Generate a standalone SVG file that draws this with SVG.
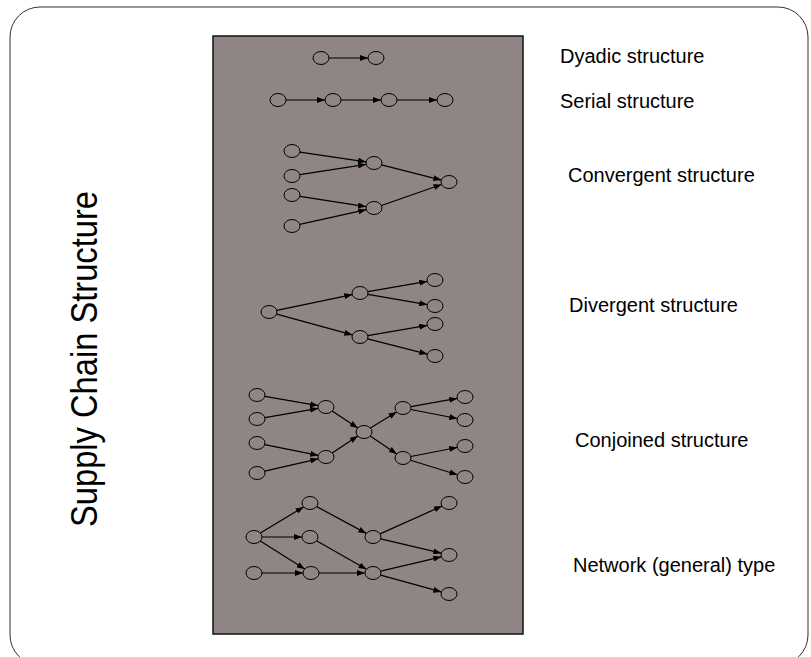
<svg xmlns="http://www.w3.org/2000/svg" width="811" height="657" viewBox="0 0 811 657">
  <style>
    .frame { fill: #ffffff; stroke: #333333; stroke-width: 1; }
    .panel { fill: #8f8585; stroke: #111111; stroke-width: 1.5; }
    .node ellipse { fill: none; stroke: #000000; stroke-width: 1; }
    .edge { stroke: #000000; stroke-width: 1.2; fill: none; marker-end: url(#arrow); }
    .label { font-family: "Liberation Sans", Arial, sans-serif; font-size: 20px; fill: #000000; }
    .title { font-family: "Liberation Sans", Arial, sans-serif; font-size: 37px; fill: #000000; }
  </style>
  <defs>
    <marker id="arrow" markerUnits="userSpaceOnUse" markerWidth="8" markerHeight="6" refX="8" refY="3" orient="auto">
      <path d="M0,0 L8,3 L0,6 z" fill="#000000"/>
    </marker>
  </defs>

  <!-- outer frame and shaded panel -->
  <rect class="frame" x="10" y="7" width="798" height="658" rx="30" ry="30"/>
  <rect class="panel" x="213" y="36" width="310" height="598"/>

  <!-- vertical title -->
  <text class="title" transform="translate(97,527) rotate(-90)" textLength="336" lengthAdjust="spacingAndGlyphs">Supply Chain Structure</text>

  <!-- structure labels -->
  <g id="labels">
    <text class="label" x="560" y="63">Dyadic structure</text>
    <text class="label" x="560" y="108">Serial structure</text>
    <text class="label" x="568" y="182">Convergent structure</text>
    <text class="label" x="569" y="312">Divergent structure</text>
    <text class="label" x="575" y="447">Conjoined structure</text>
    <text class="label" x="573" y="572">Network (general) type</text>
  </g>

  <!-- connectors -->
  <g id="connectors">
    <!-- dyadic -->
    <line class="edge" x1="329" y1="58" x2="368" y2="58"/>
    <!-- serial -->
    <line class="edge" x1="286" y1="100" x2="325" y2="100"/>
    <line class="edge" x1="341" y1="100" x2="381" y2="100"/>
    <line class="edge" x1="397" y1="100" x2="437" y2="100"/>
    <!-- convergent -->
    <line class="edge" x1="299.9" y1="152.2" x2="366.1" y2="161.8"/>
    <line class="edge" x1="299.9" y1="174.7" x2="366.1" y2="164.3"/>
    <line class="edge" x1="299.9" y1="196.3" x2="366.1" y2="206.7"/>
    <line class="edge" x1="299.7" y1="224.3" x2="366.3" y2="209.7"/>
    <line class="edge" x1="381.6" y1="164.9" x2="441.4" y2="180.1"/>
    <line class="edge" x1="381.4" y1="205.5" x2="441.6" y2="184.5"/>
    <!-- divergent -->
    <line class="edge" x1="276.7" y1="310.4" x2="352.3" y2="294.6"/>
    <line class="edge" x1="276.6" y1="314.1" x2="352.4" y2="334.9"/>
    <line class="edge" x1="367.8" y1="291.6" x2="427.2" y2="281.4"/>
    <line class="edge" x1="367.8" y1="294.4" x2="427.2" y2="304.6"/>
    <line class="edge" x1="367.8" y1="335.6" x2="427.2" y2="325.4"/>
    <line class="edge" x1="367.6" y1="338.9" x2="427.4" y2="354.1"/>
    <!-- conjoined -->
    <line class="edge" x1="264.9" y1="396.4" x2="318.1" y2="405.6"/>
    <line class="edge" x1="264.9" y1="417.6" x2="318.1" y2="408.4"/>
    <line class="edge" x1="264.7" y1="444.6" x2="318.3" y2="455.4"/>
    <line class="edge" x1="264.7" y1="471.2" x2="318.3" y2="458.8"/>
    <line class="edge" x1="332.2" y1="411.1" x2="357.8" y2="427.9"/>
    <line class="edge" x1="332.2" y1="452.9" x2="357.8" y2="436.1"/>
    <line class="edge" x1="370.4" y1="428.1" x2="396.6" y2="411.9"/>
    <line class="edge" x1="370.2" y1="436.1" x2="396.8" y2="453.9"/>
    <line class="edge" x1="410.8" y1="406.6" x2="457.2" y2="398.4"/>
    <line class="edge" x1="410.8" y1="409.5" x2="457.2" y2="418.5"/>
    <line class="edge" x1="410.8" y1="456.5" x2="457.2" y2="447.5"/>
    <line class="edge" x1="410.5" y1="460.3" x2="457.5" y2="474.7"/>
    <!-- network -->
    <line class="edge" x1="260.4" y1="533.1" x2="303.6" y2="506.9"/>
    <line class="edge" x1="262" y1="537" x2="302" y2="537"/>
    <line class="edge" x1="260.3" y1="541" x2="304.7" y2="569"/>
    <line class="edge" x1="262" y1="573" x2="303" y2="573"/>
    <line class="edge" x1="316.7" y1="506.6" x2="366.3" y2="533.4"/>
    <line class="edge" x1="316.5" y1="540.7" x2="366.5" y2="569.3"/>
    <line class="edge" x1="319" y1="573" x2="365" y2="573"/>
    <line class="edge" x1="380" y1="533.9" x2="442" y2="506.1"/>
    <line class="edge" x1="380.7" y1="538.8" x2="441.3" y2="553.2"/>
    <line class="edge" x1="380.7" y1="571.2" x2="441.3" y2="556.8"/>
    <line class="edge" x1="380.6" y1="575.1" x2="441.4" y2="591.9"/>
  </g>

  <!-- dyadic nodes -->
  <g id="dyadic">
    <g id="d1" class="node"><ellipse cx="321" cy="58" rx="8" ry="6.5"/></g>
    <g id="d2" class="node"><ellipse cx="376" cy="58" rx="8" ry="6.5"/></g>
  </g>

  <!-- serial nodes -->
  <g id="serial">
    <g id="s1" class="node"><ellipse cx="278" cy="100" rx="8" ry="6.5"/></g>
    <g id="s2" class="node"><ellipse cx="333" cy="100" rx="8" ry="6.5"/></g>
    <g id="s3" class="node"><ellipse cx="389" cy="100" rx="8" ry="6.5"/></g>
    <g id="s4" class="node"><ellipse cx="445" cy="100" rx="8" ry="6.5"/></g>
  </g>

  <!-- convergent nodes -->
  <g id="convergent">
    <g id="c1" class="node"><ellipse cx="292" cy="151" rx="8" ry="6.5"/></g>
    <g id="c2" class="node"><ellipse cx="292" cy="176" rx="8" ry="6.5"/></g>
    <g id="c3" class="node"><ellipse cx="292" cy="195" rx="8" ry="6.5"/></g>
    <g id="c4" class="node"><ellipse cx="292" cy="226" rx="8" ry="6.5"/></g>
    <g id="c5" class="node"><ellipse cx="374" cy="163" rx="8" ry="6.5"/></g>
    <g id="c6" class="node"><ellipse cx="374" cy="208" rx="8" ry="6.5"/></g>
    <g id="c7" class="node"><ellipse cx="449" cy="182" rx="8" ry="6.5"/></g>
  </g>

  <!-- divergent nodes -->
  <g id="divergent">
    <g id="v1" class="node"><ellipse cx="269" cy="312" rx="8" ry="6.5"/></g>
    <g id="v2" class="node"><ellipse cx="360" cy="293" rx="8" ry="6.5"/></g>
    <g id="v3" class="node"><ellipse cx="360" cy="337" rx="8" ry="6.5"/></g>
    <g id="v4" class="node"><ellipse cx="435" cy="280" rx="8" ry="6.5"/></g>
    <g id="v5" class="node"><ellipse cx="435" cy="306" rx="8" ry="6.5"/></g>
    <g id="v6" class="node"><ellipse cx="435" cy="324" rx="8" ry="6.5"/></g>
    <g id="v7" class="node"><ellipse cx="435" cy="356" rx="8" ry="6.5"/></g>
  </g>

  <!-- conjoined nodes -->
  <g id="conjoined">
    <g id="j1" class="node"><ellipse cx="257" cy="395" rx="8" ry="6.5"/></g>
    <g id="j2" class="node"><ellipse cx="257" cy="419" rx="8" ry="6.5"/></g>
    <g id="j3" class="node"><ellipse cx="257" cy="443" rx="8" ry="6.5"/></g>
    <g id="j4" class="node"><ellipse cx="257" cy="473" rx="8" ry="6.5"/></g>
    <g id="j5" class="node"><ellipse cx="326" cy="407" rx="8" ry="6.5"/></g>
    <g id="j6" class="node"><ellipse cx="326" cy="457" rx="8" ry="6.5"/></g>
    <g id="j7" class="node"><ellipse cx="364" cy="432" rx="8" ry="6.5"/></g>
    <g id="j8" class="node"><ellipse cx="403" cy="408" rx="8" ry="6.5"/></g>
    <g id="j9" class="node"><ellipse cx="403" cy="458" rx="8" ry="6.5"/></g>
    <g id="j10" class="node"><ellipse cx="465" cy="397" rx="8" ry="6.5"/></g>
    <g id="j11" class="node"><ellipse cx="465" cy="420" rx="8" ry="6.5"/></g>
    <g id="j12" class="node"><ellipse cx="465" cy="446" rx="8" ry="6.5"/></g>
    <g id="j13" class="node"><ellipse cx="465" cy="477" rx="8" ry="6.5"/></g>
  </g>

  <!-- network nodes -->
  <g id="network">
    <g id="n1" class="node"><ellipse cx="254" cy="537" rx="8" ry="6.5"/></g>
    <g id="n2" class="node"><ellipse cx="254" cy="573" rx="8" ry="6.5"/></g>
    <g id="n3" class="node"><ellipse cx="310" cy="503" rx="8" ry="6.5"/></g>
    <g id="n4" class="node"><ellipse cx="310" cy="537" rx="8" ry="6.5"/></g>
    <g id="n5" class="node"><ellipse cx="311" cy="573" rx="8" ry="6.5"/></g>
    <g id="n6" class="node"><ellipse cx="373" cy="537" rx="8" ry="6.5"/></g>
    <g id="n7" class="node"><ellipse cx="373" cy="573" rx="8" ry="6.5"/></g>
    <g id="n8" class="node"><ellipse cx="449" cy="503" rx="8" ry="6.5"/></g>
    <g id="n9" class="node"><ellipse cx="449" cy="555" rx="8" ry="6.5"/></g>
    <g id="n10" class="node"><ellipse cx="449" cy="594" rx="8" ry="6.5"/></g>
  </g>
</svg>
